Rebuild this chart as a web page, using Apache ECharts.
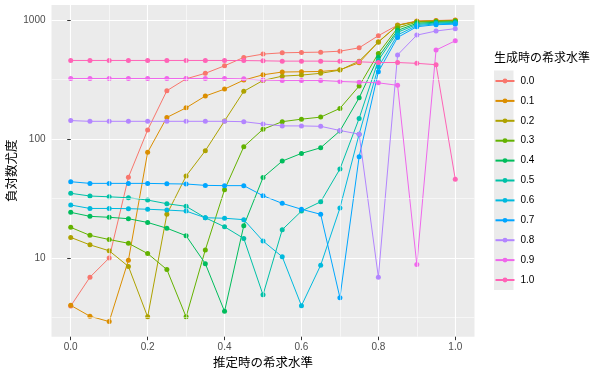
<!DOCTYPE html>
<html>
<head>
<meta charset="utf-8">
<script src="https://cdn.jsdelivr.net/npm/echarts@6/dist/echarts.min.js"></script>
<style>
html,body{margin:0;padding:0;background:#fff;}
#chart{width:594px;height:369px;}
</style>
</head>
<body>
<div id="chart"></div>
<script>
// 推定時の希求水準 (x)
var xValues = [0, 0.05, 0.1, 0.15, 0.2, 0.25, 0.3, 0.35, 0.4, 0.45, 0.5, 0.55, 0.6, 0.65, 0.7, 0.75, 0.8, 0.85, 0.9, 0.95, 1.0];
var seriesNames = ['0.0','0.1','0.2','0.3','0.4','0.5','0.6','0.7','0.8','0.9','1.0'];
var s00 = [3.95, 6.9, 10.0, 47.7, 119, 255, 321, 357, 413, 486, 518, 531, 535, 538, 548, 585, 740, 908, 983, 993, 1000];
var s01 = [4.0, 3.24, 2.92, 9.57, 77.3, 152, 183, 230, 263, 313, 347, 366, 368, 370, 382, 438, 657, 902, 978, 990, 998];
var s02 = [14.9, 12.9, 11.5, 8.5, 3.2, 23.3, 48.9, 79.8, 142, 252, 311, 338, 345, 357, 380, 452, 653, 905, 975, 985, 995];
var s03 = [18.1, 15.5, 14.3, 13.3, 10.9, 8.0, 3.2, 11.7, 37.5, 86.2, 121, 140, 147, 153, 181, 279, 525, 860, 962, 975, 985];
var s04 = [24.2, 22.4, 22.0, 21.4, 19.9, 17.8, 15.4, 8.96, 3.56, 18.7, 47.5, 65.3, 75.8, 84.5, 117, 222, 490, 820, 940, 960, 970];
var s05 = [35.0, 33.2, 32.7, 32.1, 30.7, 28.6, 27.2, 21.8, 18.3, 14.6, 4.9, 17.3, 24.8, 29.7, 56, 149, 460, 790, 920, 945, 955];
var s06 = [27.9, 26.1, 26.1, 26.0, 25.7, 25.3, 24.8, 21.8, 21.6, 21.0, 13.9, 10.25, 3.97, 8.7, 26.3, 110, 405, 750, 900, 930, 940];
var s07 = [43.8, 42.4, 42.4, 42.4, 42.4, 42.1, 41.9, 40.8, 40.6, 40.6, 33.4, 28.8, 25.7, 23.3, 4.64, 71, 368, 715, 880, 915, 925];
var s08 = [143, 141, 141, 141, 141, 141, 141, 141, 141, 140, 134, 129, 129, 128, 118, 110, 6.9, 510, 748, 810, 848];
var s09 = [323, 323, 323, 323, 323, 323, 323, 323, 323, 321, 313, 311, 311, 311, 305, 301, 297, 283, 8.8, 560, 670];
var s10 = [458, 458, 458, 458, 458, 458, 458, 458, 458, 457, 455, 452, 452, 452, 450, 446, 440, 440, 433, 422, 46];
var seriesValues = [s00, s01, s02, s03, s04, s05, s06, s07, s08, s09, s10];
var colors = ['#F8766D','#DB8E00','#AEA200','#64B200','#00BD5C','#00C1A7','#00BADE','#00A6FF','#B385FF','#EF67EB','#FF63B6'];
var xTicks = [0, 0.2, 0.4, 0.6, 0.8, 1.0];
var xMinor = [0.1, 0.3, 0.5, 0.7, 0.9];
var yTicks = [10, 100, 1000];
var yMinor = [3.1623, 31.623, 316.23];

var FONT = '"Liberation Sans", "Noto Sans CJK JP", sans-serif';

function pairs(vals) {
  return vals.map(function (v, i) { return [xValues[i], v]; });
}

var series = [];
// minor grid lines (drawn behind data)
var minorLines = [];
xMinor.forEach(function (v) { minorLines.push({ xAxis: v }); });
yMinor.forEach(function (v) { minorLines.push({ yAxis: v }); });
series.push({
  type: 'line', data: [], z: 1, silent: true,
  markLine: {
    silent: true, symbol: ['none', 'none'], animation: false,
    label: { show: false },
    lineStyle: { color: '#ffffff', width: 0.55, type: 'solid' },
    emphasis: { disabled: true },
    data: minorLines
  }
});
seriesNames.forEach(function (name, k) {
  series.push({
    name: name, type: 'line', data: pairs(seriesValues[k]), z: 2,
    showSymbol: false, symbol: 'circle', symbolSize: 5,
    lineStyle: { color: colors[k], width: 1 },
    itemStyle: { color: colors[k] },
    emphasis: { disabled: true }, animation: false
  });
});
seriesNames.forEach(function (name, k) {
  series.push({
    name: name, type: 'scatter', data: pairs(seriesValues[k]), z: 3,
    symbol: 'circle', symbolSize: 5,
    itemStyle: { color: colors[k], opacity: 1 },
    emphasis: { disabled: true }, animation: false
  });
});

var chart = echarts.init(document.getElementById('chart'), null, { renderer: 'canvas' });
chart.setOption({
  animation: false,
  backgroundColor: '#ffffff',
  textStyle: { fontFamily: FONT },
  title: {
    text: '生成時の希求水準', left: 494, top: 53, padding: 0,
    textStyle: { fontSize: 12, fontWeight: 'normal', color: '#000000', fontFamily: FONT }
  },
  legend: {
    data: seriesNames, orient: 'vertical', left: 494.5, top: 75, padding: 0,
    itemWidth: 19, itemHeight: 6, itemGap: 7.9,
    textStyle: { fontSize: 10, color: '#000000', lineHeight: 12, fontFamily: FONT, padding: [0, 0, 0, 1] },
    selectedMode: false
  },
  graphic: [{
    type: 'rect', left: 494, top: 70.5, z: -1, silent: true,
    shape: { width: 19.5, height: 219.5 },
    style: { fill: '#EBEBEB' }
  }],
  grid: {
    left: 51.5, right: 119.5, top: 5, bottom: 32.3,
    show: true, backgroundColor: '#EBEBEB', borderWidth: 0,
    containLabel: false, outerBoundsMode: 'none'
  },
  xAxis: {
    type: 'value', min: -0.05, max: 1.05,
    name: '推定時の希求水準', nameLocation: 'middle', nameGap: 21, nameMoveOverlap: false,
    nameTextStyle: { fontSize: 12.5, color: '#000000', fontFamily: FONT },
    axisLine: { show: false },
    axisTick: { show: true, length: 3.5, lineStyle: { color: '#333333', width: 1 }, customValues: xTicks },
    axisLabel: { customValues: xTicks, color: '#4D4D4D', fontSize: 10, margin: 6, fontFamily: FONT,
      formatter: function (v) { return v.toFixed(1); } },
    splitLine: { show: true, lineStyle: { color: '#ffffff', width: 1.1 } }
  },
  yAxis: {
    type: 'log', logBase: 10, min: 2.18, max: 1340,
    name: '負対数尤度', nameLocation: 'middle', nameGap: 38.5, nameRotate: 90, nameMoveOverlap: false,
    nameTextStyle: { fontSize: 12.5, color: '#000000', fontFamily: FONT, verticalAlign: 'middle' },
    axisLine: { show: false },
    axisTick: { show: true, length: 3.5, lineStyle: { color: '#333333', width: 1 }, customValues: yTicks },
    axisLabel: { customValues: yTicks, color: '#4D4D4D', fontSize: 10, margin: 6, fontFamily: FONT,
      formatter: function (v) { return String(Math.round(v)); } },
    splitLine: { show: true, lineStyle: { color: '#ffffff', width: 1.1 } }
  },
  series: series
});
</script>
</body>
</html>
